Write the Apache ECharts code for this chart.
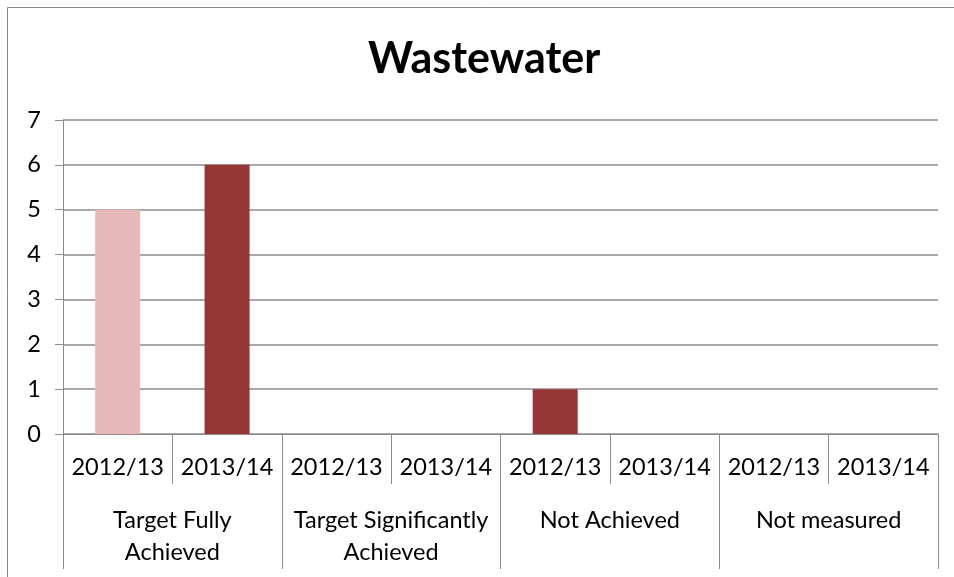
<!DOCTYPE html>
<html>
<head>
<meta charset="utf-8">
<script src="https://cdn.jsdelivr.net/npm/echarts@6/dist/echarts.min.js"></script>
<style>html,body{margin:0;padding:0;background:#fff}#c{width:954px;height:577px}</style>
</head>
<body>
<div id="c"></div>
<script>
var chartTitle = 'Wastewater';
var subCategories = ['2012/13','2013/14','2012/13','2013/14','2012/13','2013/14','2012/13','2013/14'];
var groupLabels = ['Target Fully\nAchieved','Target Significantly\nAchieved','Not Achieved','Not measured'];
var values = [5, 6, 0, 0, 1, 0, 0, 0];
var yTicks = [0, 7, 1]; // min, max, interval
var barColors = ['#E6B9B8','#953735','#E6B9B8','#953735','#953735','#953735','#E6B9B8','#953735'];

var FONT = 'Lato, Carlito, Calibri, sans-serif';
var GRID = '#8c8c8c';
var FS = 23.5;
var chart = echarts.init(document.getElementById('c'), null, {renderer:'canvas'});
chart.setOption({
  animation: false,
  backgroundColor: '#fff',
  graphic: [{
    type: 'rect', shape: {x: 7.5, y: 7.5, width: 1200, height: 1200},
    style: {fill: 'none', stroke: '#868686', lineWidth: 1}, silent: true, z: -10
  }],
  title: {
    text: chartTitle, left: 368, top: 38, padding: 0,
    textStyle: {fontFamily: FONT, fontSize: 43, fontWeight: 'bold', color: '#000'}
  },
  grid: {left: 63, right: 16, top: 120, bottom: 143, containLabel: false},
  xAxis: [{
    type: 'category', data: subCategories, position: 'bottom',
    axisLine: {show: true, lineStyle: {color: GRID, width: 1}},
    axisTick: {show: true, interval: 0, length: 50, lineStyle: {color: GRID, width: 1}},
    axisLabel: {interval: 0, margin: 21, fontSize: FS, fontFamily: FONT, color: '#000'},
    splitLine: {show: false}
  }, {
    type: 'category', data: groupLabels, position: 'bottom', offset: 0,
    axisLine: {show: false},
    axisTick: {show: true, interval: 0, length: 135, lineStyle: {color: GRID, width: 1}},
    axisLabel: {interval: 0, margin: 70, fontSize: FS, lineHeight: 32, fontFamily: FONT, color: '#000'},
    splitLine: {show: false}
  }],
  yAxis: {
    type: 'value', min: yTicks[0], max: yTicks[1], interval: yTicks[2],
    axisLine: {show: true, lineStyle: {color: GRID, width: 1}},
    axisTick: {show: true, length: 8, lineStyle: {color: GRID, width: 1}},
    axisLabel: {margin: 22, fontSize: FS, fontFamily: FONT, color: '#000'},
    splitLine: {show: true, lineStyle: {color: GRID, width: 1.5}}
  },
  series: [{
    type: 'bar', xAxisIndex: 0, barWidth: 45,
    data: values.map(function (v, i) { return {value: v, itemStyle: {color: barColors[i]}}; })
  }]
});
</script>
</body>
</html>
